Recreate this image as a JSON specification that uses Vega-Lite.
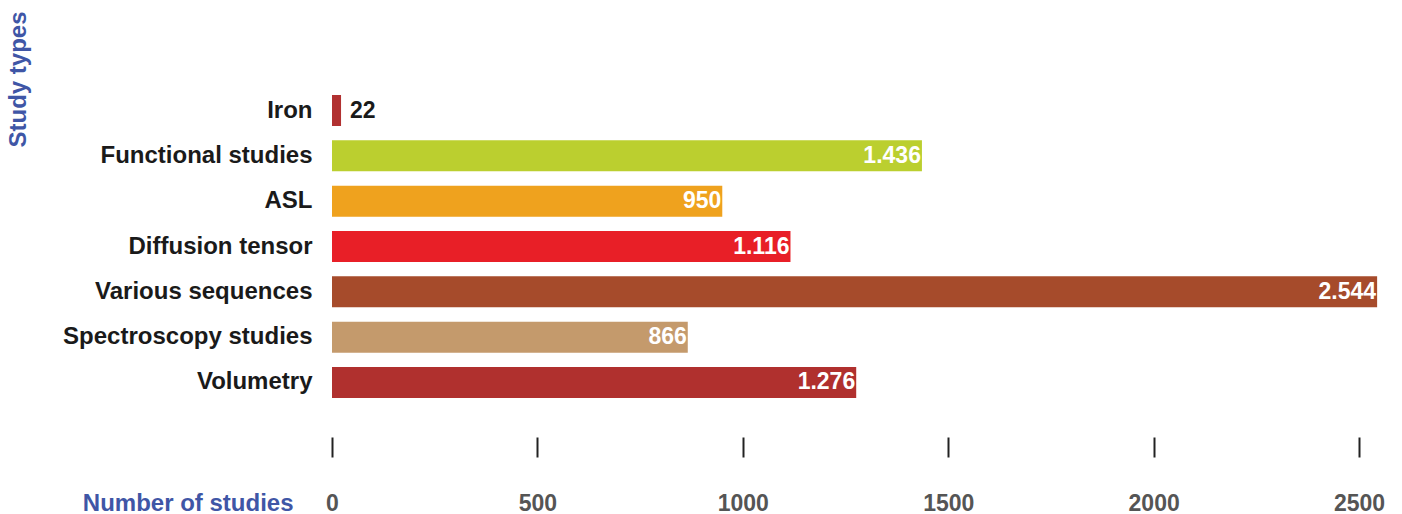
{
  "$schema": "https://vega.github.io/schema/vega-lite/v6.json",
  "autosize": {"type": "none"},
  "width": 1048,
  "height": 317,
  "padding": {"left": 332, "top": 88, "right": 22, "bottom": 109},
  "background": "white",
  "config": {
    "view": {"stroke": null},
    "font": "Liberation Sans",
    "locale": {"number": {"decimal": ",", "thousands": ".", "grouping": [3], "currency": ["", ""]}}
  },
  "data": {
    "values": [
      {"type": "Iron", "studies": 22, "color": "#b13131"},
      {"type": "Functional studies", "studies": 1436, "color": "#bbcf2f"},
      {"type": "ASL", "studies": 950, "color": "#efa21e"},
      {"type": "Diffusion tensor", "studies": 1116, "color": "#e81f27"},
      {"type": "Various sequences", "studies": 2544, "color": "#a64b2b"},
      {"type": "Spectroscopy studies", "studies": 866, "color": "#c49a6c"},
      {"type": "Volumetry", "studies": 1276, "color": "#b0302e"}
    ]
  },
  "encoding": {
    "y": {
      "field": "type", "type": "nominal", "sort": null,
      "scale": {"paddingInner": 0.316, "paddingOuter": 0.155},
      "axis": {
        "title": "Study types", "titleColor": "#3f56a6", "titleFontSize": 24, "titleFontWeight": "bold",
        "titleAngle": 270, "titleAlign": "center", "titleBaseline": "middle", "titleX": -314, "titleY": -9,
        "labelFontSize": 24, "labelFontWeight": "bold", "labelColor": "#1a1a1a", "labelPadding": 20,
        "ticks": false, "domain": false, "labelLimit": 400
      }
    },
    "x": {
      "field": "studies", "type": "quantitative",
      "scale": {"domain": [0, 2551], "nice": false},
      "axis": {
        "title": "Number of studies", "titleColor": "#3f56a6", "titleFontSize": 24, "titleFontWeight": "bold",
        "titleAlign": "right", "titleBaseline": "alphabetic", "titleX": -39, "titleY": 73, "titleAnchor": null,
        "values": [0, 500, 1000, 1500, 2000, 2500], "format": "d",
        "labelFontSize": 23, "labelFontWeight": "bold", "labelColor": "#555555", "labelPadding": 35,
        "offset": 32, "tickSize": 20, "tickWidth": 2, "tickColor": "#222222",
        "domain": false, "grid": false, "labelFlush": false
      }
    }
  },
  "layer": [
    {"mark": {"type": "bar"}, "encoding": {"color": {"field": "color", "type": "nominal", "scale": null}}},
    {
      "transform": [{"filter": "datum.studies >= 100"}],
      "mark": {"type": "text", "align": "right", "baseline": "middle", "dx": -1, "fontSize": 23, "fontWeight": "bold", "color": "white"},
      "encoding": {"text": {"field": "studies", "type": "quantitative", "format": ",d"}}
    },
    {
      "transform": [{"filter": "datum.studies < 100"}],
      "mark": {"type": "text", "align": "left", "baseline": "middle", "dx": 9, "fontSize": 23, "fontWeight": "bold", "color": "#1a1a1a"},
      "encoding": {"text": {"field": "studies", "type": "quantitative", "format": ",d"}}
    }
  ]
}
